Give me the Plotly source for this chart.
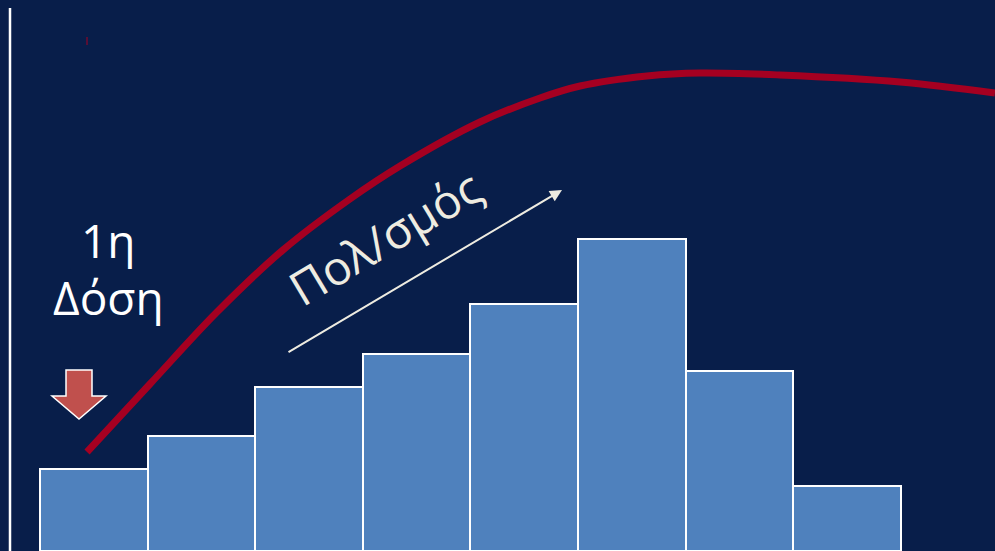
import plotly.graph_objects as go

W, H = 995, 551

# Data
categories = [0, 1, 2, 3, 4, 5, 6, 7]
bar_values = [82, 115, 164, 197, 247, 312, 180, 65]

curve_x = [-0.063, 0.522, 1.145, 1.758, 2.381, 2.846, 3.589, 4.147, 4.519, 5.141,
           5.634, 6.377, 7.493, 8.375]
curve_y = [99, 167, 239, 301, 352, 385, 429, 453, 465, 475, 478, 476, 469, 458]

BG = "#081e4a"
BAR = "#4f81bd"
RED = "#a50021"
CREAM = "#eeece1"

def px(x):
    return x / W

def py(y):
    return 1 - y / H

fig = go.Figure()

fig.add_trace(go.Bar(
    x=categories, y=bar_values, width=1,
    marker=dict(color=BAR, line=dict(color="white", width=2)),
    hoverinfo="skip",
))

fig.add_trace(go.Scatter(
    x=curve_x, y=curve_y, mode="lines",
    line=dict(color=RED, width=7, shape="spline", smoothing=1.0),
    hoverinfo="skip",
))

shapes = [
    # left white vertical line
    dict(type="line", xref="paper", yref="paper", x0=px(10), x1=px(10), y0=py(8), y1=0,
         line=dict(color="white", width=2.5)),
    # small red tick
    dict(type="line", xref="paper", yref="paper", x0=px(87), x1=px(87), y0=py(37), y1=py(45),
         line=dict(color=RED, width=1)),
    # red down arrow
    dict(type="path", xref="paper", yref="paper",
         path=(f"M {px(66)} {py(370)} L {px(92)} {py(370)} L {px(92)} {py(396)} "
               f"L {px(106)} {py(396)} L {px(79)} {py(419)} L {px(52)} {py(396)} "
               f"L {px(66)} {py(396)} Z"),
         fillcolor="#c0504d", line=dict(color="white", width=1.5)),
]

annotations = [
    dict(text="1η", x=px(108), y=py(240), xref="paper", yref="paper", showarrow=False,
         font=dict(family="Open Sans", size=46, color="white"), xanchor="center", yanchor="middle"),
    dict(text="Δόση", x=px(108), y=py(297), xref="paper", yref="paper", showarrow=False,
         font=dict(family="Open Sans", size=46, color="white"), xanchor="center", yanchor="middle"),
    dict(text="Πολ/σμός", x=px(385), y=py(237), xref="paper", yref="paper", showarrow=False,
         textangle=-31,
         font=dict(family="Open Sans", size=47, color=CREAM), xanchor="center", yanchor="middle"),
    # white arrow
    dict(text="", x=px(562), y=py(190), xref="paper", yref="paper",
         ax=287 - 562, ay=353 - 190, axref="pixel", ayref="pixel",
         showarrow=True, arrowhead=2, arrowsize=1.2, arrowwidth=2, arrowcolor=CREAM),
]

x_unit = 107.6
fig.update_layout(
    width=W, height=H,
    margin=dict(l=0, r=0, t=0, b=0),
    paper_bgcolor=BG, plot_bgcolor=BG,
    showlegend=False, bargap=0,
    xaxis=dict(range=[-0.5 - 40 / x_unit, -0.5 + (W - 40) / x_unit], visible=False, fixedrange=True),
    yaxis=dict(range=[0, H], visible=False, fixedrange=True),
    shapes=shapes, annotations=annotations,
)

fig.write_html(
    "out.html",
    config=dict(displayModeBar=False),
    post_script="document.body.style.margin='0';document.body.style.background='#081e4a';",
)
